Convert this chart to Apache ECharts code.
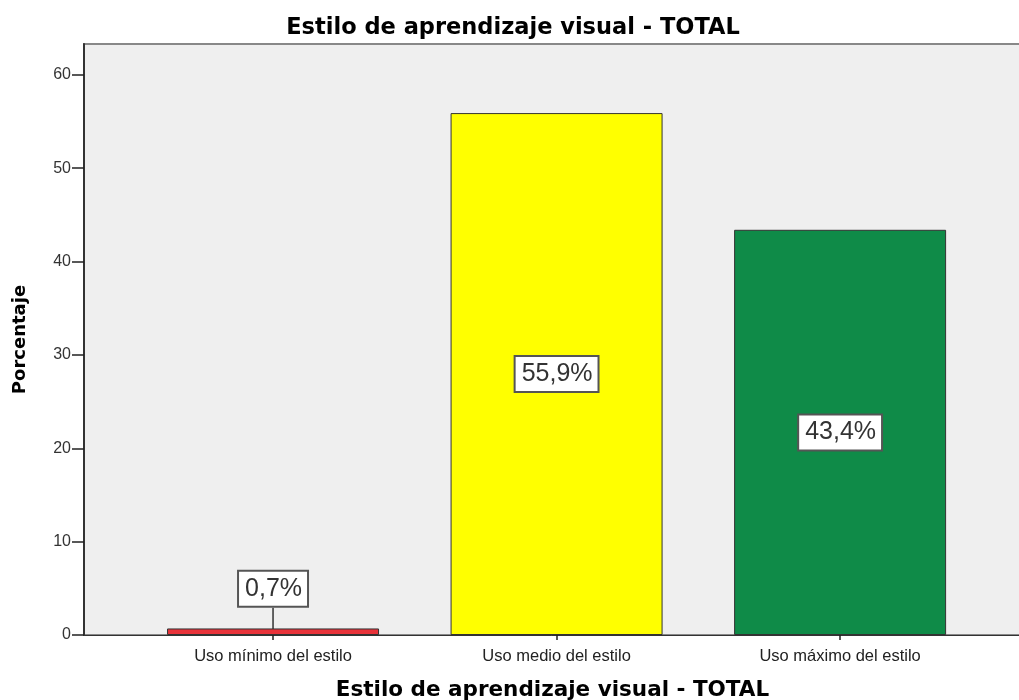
<!DOCTYPE html>
<html>
<head>
<meta charset="utf-8">
<script src="https://cdn.jsdelivr.net/npm/echarts@6/dist/echarts.min.js"></script>
<style>
  html, body { margin: 0; padding: 0; background: #fff; }
  #chart { width: 1019px; height: 700px; }
</style>
</head>
<body>
<div id="chart"></div>
<script>
const categories = ['Uso mínimo del estilo', 'Uso medio del estilo', 'Uso máximo del estilo'];
const percentages = [0.7, 55.9, 43.4];
const valueLabels = ['0,7%', '55,9%', '43,4%'];
const barColors = ['#e8333a', '#ffff00', '#0f8b48'];
const yTicks = [0, 10, 20, 30, 40, 50, 60];

const chartTitle = 'Estilo de aprendizaje visual - TOTAL';
const xTitle = 'Estilo de aprendizaje visual - TOTAL';
const yTitle = 'Porcentaje';

const font = '"Liberation Sans", Arial, sans-serif';
const boldFont = '"DejaVu Sans", Verdana, sans-serif';
const catIdx = categories.map((c, i) => i);

const myChart = echarts.init(document.getElementById('chart'));

const option = {
  animation: false,
  textStyle: { fontFamily: font },
  graphic: [{
    type: 'text',
    x: 513,
    y: 28,
    style: {
      text: chartTitle,
      textAlign: 'center',
      textVerticalAlign: 'middle',
      font: 'bold 22.5px ' + boldFont,
      fill: '#000'
    }
  }],
  grid: {
    left: 84,
    right: -2,
    top: 44,
    bottom: 65,
    outerBoundsMode: 'none',
    show: true,
    backgroundColor: '#efefef',
    borderColor: '#888',
    borderWidth: 2
  },
  xAxis: {
    type: 'value',
    min: -0.6667,
    max: 2.638,
    splitLine: { show: false },
    axisLine: { show: true, onZero: false, lineStyle: { color: '#333', width: 1 } },
    axisTick: {
      show: true, length: 5, customValues: catIdx,
      lineStyle: { color: '#222', width: 1.5 }
    },
    axisLabel: {
      customValues: catIdx,
      formatter: v => categories[Math.round(v)] || '',
      color: '#222',
      fontSize: 16.5,
      margin: 13
    },
    name: xTitle,
    nameLocation: 'middle',
    nameGap: 44,
    nameTextStyle: { fontFamily: boldFont, fontWeight: 'bold', fontSize: 21.5, color: '#000' }
  },
  yAxis: {
    type: 'value',
    min: 0,
    max: 63.3,
    splitLine: { show: false },
    axisLine: { show: true, onZero: false, lineStyle: { color: '#333', width: 2 } },
    axisTick: {
      show: true, length: 12, customValues: yTicks,
      lineStyle: { color: '#222', width: 1.5 }
    },
    axisLabel: {
      customValues: yTicks,
      color: '#333',
      fontSize: 16,
      margin: 13
    },
    name: yTitle,
    nameLocation: 'middle',
    nameGap: 55,
    nameTextStyle: { fontFamily: boldFont, fontWeight: 'bold', fontSize: 18, color: '#000' }
  },
  series: [{
    type: 'bar',
    barWidth: 212,
    data: percentages.map((v, i) => ({
      value: [i, v],
      itemStyle: { color: barColors[i], borderColor: '#333', borderWidth: 1 }
    })),
    label: {
      show: true,
      position: 'inside',
      formatter: p => valueLabels[p.dataIndex],
      color: '#333',
      fontSize: 25,
      lineHeight: 25,
      backgroundColor: '#fff',
      borderColor: '#555',
      borderWidth: 2,
      padding: [5, 5, 4, 6]
    },
    labelLayout: p => (p.dataIndex === 0 ? { dy: -43 } : {}),
    labelLine: {
      show: true,
      lineStyle: { color: '#333', width: 1.5 }
    }
  }]
};

myChart.setOption(option);
</script>
</body>
</html>
